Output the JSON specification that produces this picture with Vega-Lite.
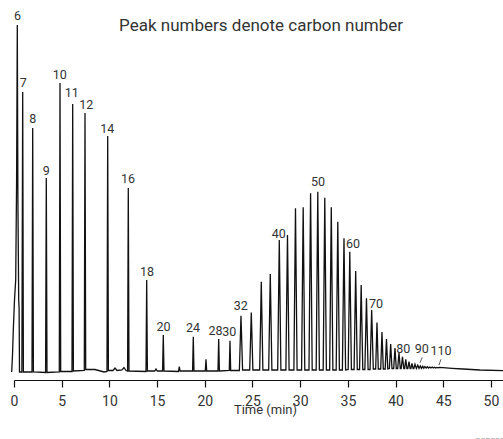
{
  "$schema": "https://vega.github.io/schema/vega-lite/v6.json",
  "width": 489,
  "height": 379,
  "autosize": {"type": "none"},
  "padding": {"left": 14, "top": 0, "right": 0, "bottom": 60},
  "background": "white",
  "config": {"view": {"stroke": null}},
  "datasets": {
    "trace": [
      {"t": -0.241, "s": 7}, {"t": -0.157, "s": 24}, {"t": -0.073, "s": 49}, {"t": 0.052, "s": 79}, {"t": 0.178, "s": 99}, {"t": 0.273, "s": 199}, {"t": 0.346, "s": 354}, {"t": 0.409, "s": 179}, {"t": 0.493, "s": 79}, {"t": 0.535, "s": 71}, {"t": 0.577, "s": 7},
      {"t": 0.826, "s": 7}, {"t": 0.912, "s": 287}, {"t": 0.985, "s": 7},
      {"t": 1.887, "s": 7}, {"t": 1.960, "s": 251}, {"t": 2.034, "s": 7},
      {"t": 3.312, "s": 6.5}, {"t": 3.386, "s": 201}, {"t": 3.459, "s": 6.5},
      {"t": 4.748, "s": 7}, {"t": 4.822, "s": 296}, {"t": 4.895, "s": 7.5},
      {"t": 6.080, "s": 7.5}, {"t": 6.153, "s": 275}, {"t": 6.226, "s": 8},
      {"t": 7.369, "s": 8.5}, {"t": 7.442, "s": 266}, {"t": 7.516, "s": 9.5},
      {"t": 8.490, "s": 9.5}, {"t": 9.434, "s": 7},
      {"t": 9.748, "s": 7.5}, {"t": 9.822, "s": 243}, {"t": 9.895, "s": 8.5},
      {"t": 10.377, "s": 8.5}, {"t": 10.587, "s": 11}, {"t": 10.797, "s": 8.5}, {"t": 11.320, "s": 9}, {"t": 11.530, "s": 11.5}, {"t": 11.740, "s": 8.5},
      {"t": 11.907, "s": 8}, {"t": 11.981, "s": 191}, {"t": 12.054, "s": 8},
      {"t": 13.836, "s": 7.5}, {"t": 13.910, "s": 99}, {"t": 13.983, "s": 8},
      {"t": 14.75, "s": 8}, {"t": 14.884, "s": 10}, {"t": 15.02, "s": 8},
      {"t": 15.576, "s": 8}, {"t": 15.650, "s": 44}, {"t": 15.723, "s": 8},
      {"t": 17.243, "s": 7.5}, {"t": 17.327, "s": 12.3}, {"t": 17.411, "s": 8},
      {"t": 18.721, "s": 8}, {"t": 18.794, "s": 42.3}, {"t": 18.867, "s": 8},
      {"t": 20.051, "s": 8}, {"t": 20.125, "s": 19.7}, {"t": 20.198, "s": 8},
      {"t": 21.383, "s": 8}, {"t": 21.457, "s": 40}, {"t": 21.530, "s": 8},
      {"t": 22.567, "s": 8.5}, {"t": 22.641, "s": 38.3}, {"t": 22.714, "s": 8.5},
      {"t": 23.626, "s": 8.5}, {"t": 23.794, "s": 63.3}, {"t": 23.962, "s": 9},
      {"t": 24.706, "s": 9}, {"t": 24.874, "s": 66.5}, {"t": 25.042, "s": 9},
      {"t": 25.754, "s": 9}, {"t": 25.922, "s": 97.3}, {"t": 26.090, "s": 9},
      {"t": 26.697, "s": 9}, {"t": 26.865, "s": 105}, {"t": 27.033, "s": 9},
      {"t": 27.641, "s": 9}, {"t": 27.809, "s": 139}, {"t": 27.977, "s": 9},
      {"t": 28.500, "s": 9}, {"t": 28.668, "s": 144}, {"t": 28.836, "s": 9},
      {"t": 29.339, "s": 9}, {"t": 29.507, "s": 170.7}, {"t": 29.675, "s": 9},
      {"t": 30.146, "s": 9}, {"t": 30.314, "s": 171.7}, {"t": 30.482, "s": 9},
      {"t": 30.922, "s": 9}, {"t": 31.090, "s": 185.7}, {"t": 31.258, "s": 9},
      {"t": 31.676, "s": 9}, {"t": 31.844, "s": 187.3}, {"t": 32.012, "s": 9},
      {"t": 32.410, "s": 9}, {"t": 32.578, "s": 181.3}, {"t": 32.746, "s": 9},
      {"t": 33.091, "s": 9}, {"t": 33.259, "s": 171.7}, {"t": 33.427, "s": 9},
      {"t": 33.773, "s": 9}, {"t": 33.941, "s": 157.3}, {"t": 34.109, "s": 9},
      {"t": 34.423, "s": 9}, {"t": 34.591, "s": 140.7}, {"t": 34.759, "s": 9},
      {"t": 35.031, "s": 9.5}, {"t": 35.199, "s": 127.3}, {"t": 35.367, "s": 9.5},
      {"t": 35.649, "s": 9.5}, {"t": 35.817, "s": 108}, {"t": 35.985, "s": 9.5},
      {"t": 36.225, "s": 9.5}, {"t": 36.393, "s": 94}, {"t": 36.561, "s": 9.5},
      {"t": 36.781, "s": 9.5}, {"t": 36.949, "s": 80.7}, {"t": 37.117, "s": 9.5},
      {"t": 37.326, "s": 9.5}, {"t": 37.494, "s": 69}, {"t": 37.662, "s": 10},
      {"t": 37.914, "s": 10}, {"t": 38.050, "s": 56.5}, {"t": 38.186, "s": 10},
      {"t": 38.438, "s": 10}, {"t": 38.574, "s": 47}, {"t": 38.710, "s": 10},
      {"t": 38.909, "s": 10}, {"t": 39.045, "s": 40}, {"t": 39.181, "s": 10},
      {"t": 39.350, "s": 10.5}, {"t": 39.486, "s": 35}, {"t": 39.622, "s": 10.5},
      {"t": 39.800, "s": 10.5}, {"t": 39.936, "s": 31}, {"t": 40.072, "s": 10.5},
      {"t": 40.220, "s": 10.5}, {"t": 40.356, "s": 26.3}, {"t": 40.492, "s": 10.5},
      {"t": 40.587, "s": 10.5}, {"t": 40.723, "s": 22.3}, {"t": 40.859, "s": 10.5},
      {"t": 40.948, "s": 10.5}, {"t": 41.068, "s": 19.7}, {"t": 41.188, "s": 10.5},
      {"t": 41.284, "s": 10.5}, {"t": 41.404, "s": 17.3}, {"t": 41.524, "s": 10.5},
      {"t": 41.598, "s": 10.5}, {"t": 41.718, "s": 15.7}, {"t": 41.838, "s": 10.5},
      {"t": 41.913, "s": 10.5}, {"t": 42.033, "s": 14.7}, {"t": 42.18, "s": 10.5},
      {"t": 42.326, "s": 13.8}, {"t": 42.46, "s": 10.6}, {"t": 42.589, "s": 13}, {"t": 42.71, "s": 10.7},
      {"t": 42.840, "s": 12.7}, {"t": 42.96, "s": 10.8}, {"t": 43.081, "s": 12.5}, {"t": 43.21, "s": 10.9},
      {"t": 43.333, "s": 12.2}, {"t": 43.46, "s": 11}, {"t": 43.584, "s": 12}, {"t": 43.71, "s": 11},
      {"t": 43.836, "s": 12}, {"t": 43.96, "s": 11}, {"t": 44.087, "s": 11.8}, {"t": 44.21, "s": 11},
      {"t": 44.339, "s": 11.6}, {"t": 44.46, "s": 11.1}, {"t": 44.580, "s": 11.5},
      {"t": 44.968, "s": 11.3}, {"t": 45.911, "s": 10.7}, {"t": 47.064, "s": 10}, {"t": 48.846, "s": 9}, {"t": 51.26, "s": 8.3}
    ],
    "labels": [
      {"t": 0.367, "s": 359, "label": "6"},
      {"t": 0.975, "s": 291.7, "label": "7"},
      {"t": 1.960, "s": 255.7, "label": "8"},
      {"t": 3.386, "s": 204, "label": "9"},
      {"t": 4.790, "s": 299.7, "label": "10"},
      {"t": 6.048, "s": 281.7, "label": "11"},
      {"t": 7.579, "s": 270, "label": "12"},
      {"t": 9.769, "s": 246.3, "label": "14"},
      {"t": 11.949, "s": 195.7, "label": "16"},
      {"t": 13.941, "s": 103.3, "label": "18"},
      {"t": 15.681, "s": 48, "label": "20"},
      {"t": 18.763, "s": 46.7, "label": "24"},
      {"t": 21.121, "s": 44, "label": "28"},
      {"t": 22.568, "s": 43, "label": "30"},
      {"t": 23.763, "s": 69, "label": "32"},
      {"t": 27.757, "s": 140.7, "label": "40"},
      {"t": 31.865, "s": 193, "label": "50"},
      {"t": 35.534, "s": 130.7, "label": "60"},
      {"t": 37.945, "s": 70.7, "label": "70"},
      {"t": 40.807, "s": 25.7, "label": "80"},
      {"t": 42.735, "s": 26, "label": "90"},
      {"t": 44.758, "s": 23.7, "label": "110"}
    ],
    "slashes": [
      {"t": 42.557, "s": 16.3, "t2": 42.798, "s2": 21.7},
      {"t": 44.549, "s": 14, "t2": 44.760, "s2": 19.7}
    ]
  },
  "layer": [
    {
      "data": {"name": "trace"},
      "mark": {"type": "line", "color": "#111", "strokeWidth": 1.3},
      "encoding": {
        "x": {
          "field": "t", "type": "quantitative",
          "scale": {"domain": [0, 51.26], "nice": false, "zero": false},
          "axis": {
            "values": [0, 5, 10, 15, 20, 25, 30, 35, 40, 45, 50],
            "format": "d",
            "grid": false,
            "offset": 1,
            "domainColor": "#111", "domainWidth": 1.2,
            "tickColor": "#111", "tickWidth": 1.2, "tickSize": 7,
            "labelFont": "Roboto", "labelFontSize": 14, "labelColor": "#333",
            "labelBaseline": "alphabetic", "labelPadding": 18, "labelFlush": false,
            "title": "Time (min)",
            "titleFont": "Roboto", "titleFontSize": 13, "titleFontWeight": "normal", "titleColor": "#333",
            "titleX": 251, "titleY": 33, "titleAlign": "center", "titleBaseline": "alphabetic"
          }
        },
        "y": {
          "field": "s", "type": "quantitative",
          "scale": {"domain": [0, 379], "nice": false, "zero": false},
          "axis": null
        }
      }
    },
    {
      "data": {"name": "labels"},
      "mark": {"type": "text", "font": "Roboto", "fontSize": 12.5, "baseline": "alphabetic", "align": "center", "color": "#333"},
      "encoding": {
        "x": {"field": "t", "type": "quantitative"},
        "y": {"field": "s", "type": "quantitative"},
        "text": {"field": "label"}
      }
    },
    {
      "data": {"name": "slashes"},
      "mark": {"type": "rule", "color": "#333", "strokeWidth": 0.8},
      "encoding": {
        "x": {"field": "t", "type": "quantitative"},
        "x2": {"field": "t2"},
        "y": {"field": "s", "type": "quantitative"},
        "y2": {"field": "s2"}
      }
    },
    {
      "data": {"values": [{"t": 25.9, "s": 348, "label": "Peak numbers denote carbon number"}]},
      "mark": {"type": "text", "font": "Roboto", "fontSize": 17, "baseline": "alphabetic", "align": "center", "color": "#333"},
      "encoding": {
        "x": {"field": "t", "type": "quantitative"},
        "y": {"field": "s", "type": "quantitative"},
        "text": {"field": "label"}
      }
    },
    {
      "data": {"values": [{"t": 48.32, "s": -64.3, "label": "GCPE03"}]},
      "mark": {"type": "text", "font": "Roboto", "fontSize": 8, "baseline": "alphabetic", "align": "left", "color": "#999"},
      "encoding": {
        "x": {"field": "t", "type": "quantitative"},
        "y": {"field": "s", "type": "quantitative"},
        "text": {"field": "label"}
      }
    }
  ]
}
